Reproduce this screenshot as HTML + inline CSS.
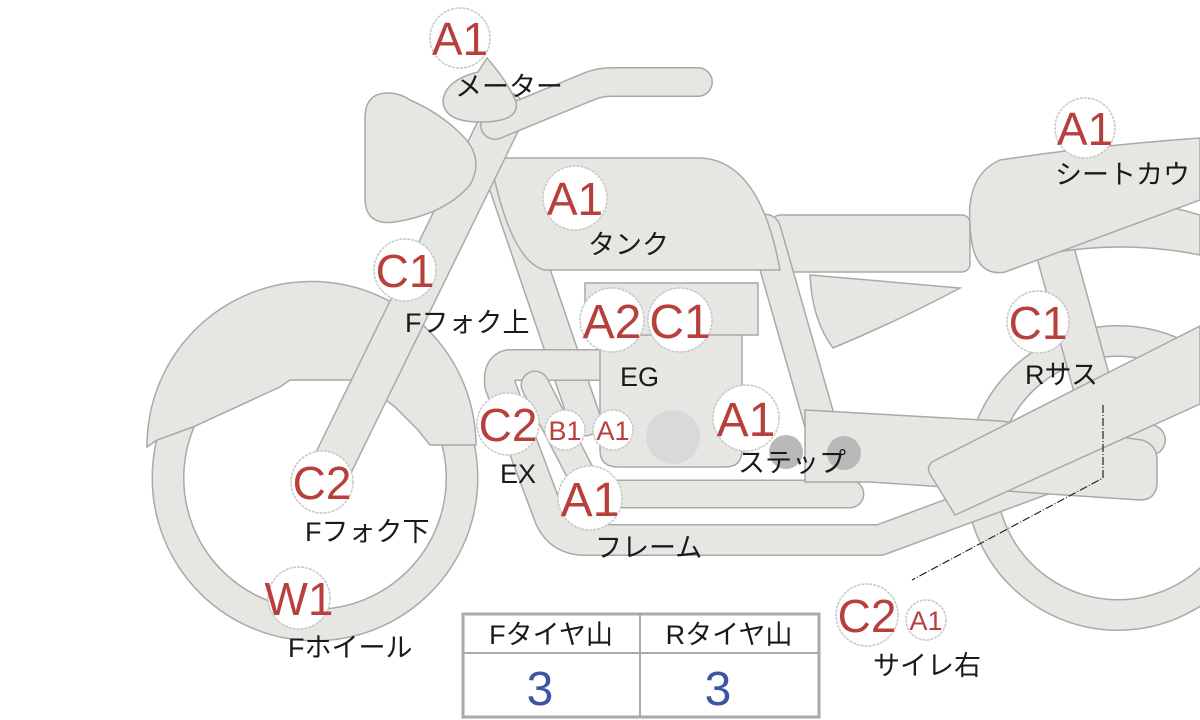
<!DOCTYPE html>
<html><head><meta charset="utf-8"><style>
html,body{margin:0;padding:0;background:#fff;}
svg{display:block;}
.t{font-family:"Liberation Sans","Noto Sans CJK JP",sans-serif;fill:#1a1a1a;font-size:27px;}
.r{font-family:"Liberation Sans","Noto Sans CJK JP",sans-serif;fill:#b8403c;text-anchor:middle;}
</style></head><body>
<svg width="1200" height="720" viewBox="0 0 1200 720" xmlns="http://www.w3.org/2000/svg">
<defs>
<style>
.s{fill:#e6e6e3;stroke:#a9a9a9;stroke-width:1.5;}
.o{fill:none;stroke:#a9a9a9;stroke-linecap:round;stroke-linejoin:round;}
.i{fill:none;stroke:#e6e6e3;stroke-linecap:round;stroke-linejoin:round;}
.c{fill:#fff;stroke:#c8c8c8;stroke-width:1.5;stroke-dasharray:3 1;}
</style>
</defs>

<circle cx="1118" cy="478" r="137" fill="none" stroke="#a9a9a9" stroke-width="32"/>
<circle cx="1118" cy="478" r="137" fill="none" stroke="#e6e6e3" stroke-width="29"/>

<circle cx="315" cy="478" r="147" fill="none" stroke="#a9a9a9" stroke-width="33"/>
<circle cx="315" cy="478" r="147" fill="none" stroke="#e6e6e3" stroke-width="30"/>
<path class="s" d="M147,447 L157,440 L193,427 L280,387 L290,380 L360,380 L395,407 L418,430 L430,445 L476,445 A163,163 0 0 0 147,447 Z"/>

<path class="o" stroke-width="40" stroke-linecap="butt" d="M1052,240 L1092,385"/>
<path class="i" stroke-width="37" stroke-linecap="butt" d="M1052,240 L1092,385"/>

<path class="s" d="M1000,265 Q1100,235 1200,255 L1200,215 Q1120,190 1040,215 Z"/>

<path class="s" d="M810,275 L960,288 Q900,320 833,348 Q812,320 810,275 Z"/>
<rect class="s" x="772" y="215" width="198" height="57" rx="8"/>

<path class="s" d="M970,225 Q966,175 1000,160 Q1100,145 1200,138 L1200,200 L1005,272 Q972,278 970,225 Z"/>

<path class="o" stroke-width="33" stroke-linecap="butt" d="M503,180 L585,420"/>
<path class="i" stroke-width="30" stroke-linecap="butt" d="M503,180 L585,420"/>
<path class="o" stroke-width="33" stroke-linecap="butt" d="M765,230 L825,440"/>
<path class="i" stroke-width="30" stroke-linecap="butt" d="M765,230 L825,440"/>

<path class="s" d="M490,158 L700,158 Q760,160 780,270 L545,270 Q510,262 490,158 Z"/>

<path class="o" stroke-width="32" d="M612,365 L510,365 Q498,366 500,385 L550,518 Q560,540 585,540 L880,540 L1150,440"/>
<path class="i" stroke-width="29" d="M612,365 L510,365 Q498,366 500,385 L550,518 Q560,540 585,540 L880,540 L1150,440"/>
<path class="o" stroke-width="29" d="M535,385 L585,482 Q592,494 608,494 L850,494"/>
<path class="i" stroke-width="26" d="M535,385 L585,482 Q592,494 608,494 L850,494"/>

<path class="s" d="M600,330 L742,330 L742,450 Q742,467 725,467 L618,467 Q600,467 600,450 Z"/>
<rect class="s" x="585" y="283" width="173" height="52"/>
<circle cx="673" cy="437" r="27" fill="#d9d9db"/>

<path class="s" d="M805,410 L1000,421 L1142,440 Q1157,445 1157,460 L1157,485 Q1155,500 1140,500 L870,482 L805,482 Z"/>
<circle cx="786" cy="452" r="17" fill="#b9b9b9"/>
<circle cx="844" cy="453" r="17" fill="#b9b9b9"/>

<path class="s" d="M932,462 Q926,468 930,474 L955,515 L1200,404 L1200,326 Z"/>

<path class="o" stroke-width="42" stroke-linecap="butt" d="M505,112 L325,480"/>
<path class="i" stroke-width="39" stroke-linecap="butt" d="M505,112 L325,480"/>

<path class="o" stroke-width="30" d="M495,125 L590,86 Q600,82 612,82 L698,82"/>
<path class="i" stroke-width="27" d="M495,125 L590,86 Q600,82 612,82 L698,82"/>

<path class="s" d="M388,93 Q365,93 365,118 L365,198 Q365,226 395,222 Q445,214 470,185 Q485,158 462,135 Q440,113 410,100 Q400,93 388,93 Z"/>
<path class="s" d="M487,58 Q508,82 516,102 Q520,122 480,122 Q443,122 443,100 Q446,80 478,72 Z"/>

<path d="M1103,405 L1103,478 L912,580" fill="none" stroke="#222" stroke-width="1.2" stroke-dasharray="8 2 1 2"/>

<g>
<circle class="c" cx="460" cy="38" r="30"/><text class="r" x="460" y="55" font-size="46">A1</text>
<circle class="c" cx="1085" cy="128" r="30"/><text class="r" x="1085" y="145" font-size="46">A1</text>
<circle class="c" cx="575" cy="198" r="32"/><text class="r" x="575" y="215" font-size="46">A1</text>
<circle class="c" cx="405" cy="270" r="31"/><text class="r" x="405" y="287" font-size="46">C1</text>
<circle class="c" cx="612" cy="320" r="32"/><text class="r" x="612" y="338" font-size="48">A2</text>
<circle class="c" cx="680" cy="320" r="32"/><text class="r" x="680" y="338" font-size="48">C1</text>
<circle class="c" cx="1038" cy="322" r="31"/><text class="r" x="1038" y="339" font-size="46">C1</text>
<circle class="c" cx="508" cy="424" r="31"/><text class="r" x="508" y="441" font-size="46">C2</text>
<circle class="c" cx="565" cy="430" r="20"/><text class="r" x="565" y="440" font-size="27">B1</text>
<circle class="c" cx="613" cy="430" r="20"/><text class="r" x="613" y="440" font-size="27">A1</text>
<circle class="c" cx="746" cy="418" r="33"/><text class="r" x="746" y="436" font-size="48">A1</text>
<circle class="c" cx="590" cy="498" r="32"/><text class="r" x="590" y="516" font-size="48">A1</text>
<circle class="c" cx="322" cy="482" r="31"/><text class="r" x="322" y="499" font-size="46">C2</text>
<circle class="c" cx="299" cy="598" r="31"/><text class="r" x="299" y="615" font-size="46">W1</text>
<circle class="c" cx="867" cy="615" r="31"/><text class="r" x="867" y="632" font-size="46">C2</text>
<circle class="c" cx="926" cy="620" r="20"/><text class="r" x="926" y="630" font-size="27">A1</text>
</g>

<text class="t" x="455" y="96">メーター</text>
<text class="t" x="588" y="254">タンク</text>
<text class="t" x="405" y="332">Fフォク上</text>
<text class="t" x="620" y="386">EG</text>
<text class="t" x="500" y="483">EX</text>
<text class="t" x="738" y="472">ステップ</text>
<text class="t" x="595" y="557">フレーム</text>
<text class="t" x="305" y="541">Fフォク下</text>
<text class="t" x="288" y="657">Fホイール</text>
<text class="t" x="1055" y="184">シートカウ</text>
<text class="t" x="1025" y="384">Rサス</text>
<text class="t" x="873" y="675">サイレ右</text>

<rect x="463" y="614" width="356" height="103" fill="#fff" stroke="#aaa" stroke-width="3"/>
<line x1="463" y1="653" x2="819" y2="653" stroke="#aaa" stroke-width="2"/>
<line x1="640" y1="614" x2="640" y2="717" stroke="#aaa" stroke-width="2"/>
<text class="t" x="551" y="644" text-anchor="middle" font-size="27">Fタイヤ山</text>
<text class="t" x="729" y="644" text-anchor="middle" font-size="27">Rタイヤ山</text>
<text x="540" y="705" text-anchor="middle" font-size="48" font-family="Liberation Sans, sans-serif" fill="#3d55a3">3</text>
<text x="718" y="705" text-anchor="middle" font-size="48" font-family="Liberation Sans, sans-serif" fill="#3d55a3">3</text>
</svg>
</body></html>
